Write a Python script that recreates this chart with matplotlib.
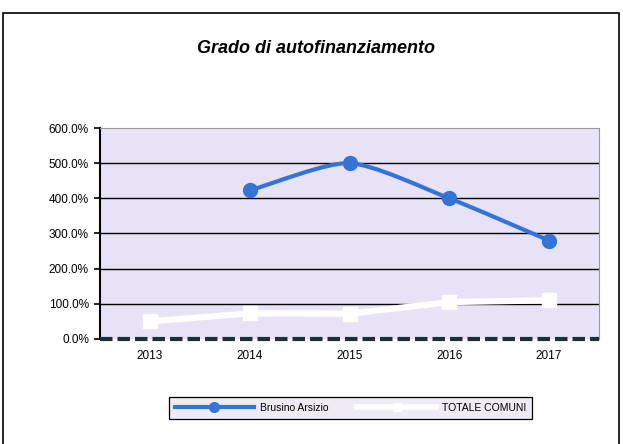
import matplotlib
matplotlib.use("Agg")
import matplotlib.pyplot as plt
import numpy as np
from matplotlib.path import Path
from matplotlib.patches import PathPatch, Rectangle
from matplotlib.lines import Line2D

plt.rcParams['font.family'] = ['Liberation Sans', 'DejaVu Sans']

anni = ['2013', '2014', '2015', '2016', '2017']
brusino = [None, 423, 500, 400, 280]
totale = [50, 73, 72, 105, 110]
y_ticks = [0, 100, 200, 300, 400, 500, 600]

blu = '#3474d6'
sfondo = '#e7e2f5'


def percorso_smussato(xs, ys, t=0.12):
    # curva tipo "linea smussata" di Excel (Catmull-Rom -> Bezier)
    verts = [(xs[0], ys[0])]
    codes = [Path.MOVETO]
    n = len(xs)
    for i in range(n - 1):
        x1, y1 = xs[i], ys[i]
        x2, y2 = xs[i + 1], ys[i + 1]
        if i > 0:
            x0, y0 = xs[i - 1], ys[i - 1]
        else:
            x0, y0 = 2 * x1 - x2, 2 * y1 - y2
        if i + 2 < n:
            x3, y3 = xs[i + 2], ys[i + 2]
        else:
            x3, y3 = 2 * x2 - x1, 2 * y2 - y1
        verts += [(x1 + (x2 - x0) * t, y1 + (y2 - y0) * t),
                  (x2 - (x3 - x1) * t, y2 - (y3 - y1) * t),
                  (x2, y2)]
        codes += [Path.CURVE4] * 3
    return Path(verts, codes)


fig = plt.figure(figsize=(6.23, 4.44), dpi=100)
fig.patches.append(Rectangle((3 / 623, -0.01), 616 / 623, 1 - 13 / 444 + 0.01,
                             transform=fig.transFigure, fill=False,
                             edgecolor='black', linewidth=1.2))

ax = fig.add_axes([0.1605, 0.2365, 0.801, 0.4752])
ax.set_facecolor(sfondo)
x = np.arange(len(anni))

for v in y_ticks[1:-1]:
    ax.axhline(v, color='black', linewidth=1.0, zorder=1)

# TOTALE COMUNI
ax.plot(x, totale, color='white', linewidth=4.5, marker='s', markersize=9.5,
        zorder=3)

# Brusino Arsizio (linea smussata)
bx = [i for i, v in enumerate(brusino) if v is not None]
by = [v for v in brusino if v is not None]
ax.add_patch(PathPatch(percorso_smussato(bx, by), facecolor='none',
                       edgecolor=blu, linewidth=3, zorder=4))
ax.plot(bx, by, linestyle='none', marker='o', markersize=10, color=blu,
        zorder=5)

ax.axhline(0, color='#1f2f3a', linewidth=3, linestyle=(0, (3, 1.2)),
           zorder=6, clip_on=False)

ax.set_xlim(-0.5, len(anni) - 0.5)
ax.set_ylim(0, 600)
ax.set_yticks(y_ticks)
ax.set_yticklabels(['%.1f%%' % v for v in y_ticks], fontsize=8.5)
ax.set_xticks(x)
ax.set_xticklabels(anni, fontsize=8.5)
ax.tick_params(axis='x', length=0, pad=8)
ax.tick_params(axis='y', length=4, width=1.2, direction='out', pad=4)
ax.spines['left'].set_linewidth(1.5)
ax.spines['left'].set_color('black')
ax.spines['bottom'].set_visible(False)
for s in ['top', 'right']:
    ax.spines[s].set_color('#9a9a9a')
    ax.spines[s].set_linewidth(0.8)

fig.text(0.508, 0.89, 'Grado di autofinanziamento', ha='center', va='center',
         fontsize=13, fontweight='bold', style='italic')

handles = [Line2D([], [], color=blu, linewidth=3, marker='o', markersize=7),
           Line2D([], [], color='white', linewidth=4, marker='s',
                  markersize=6)]
leg = fig.legend(handles, ['Brusino Arsizio', 'TOTALE COMUNI'], ncol=2,
                 loc='center', bbox_to_anchor=(0.563, 0.081), fontsize=7.5,
                 handlelength=7.5, columnspacing=2.8, handletextpad=0.6,
                 fancybox=False, framealpha=1, borderpad=0.6)
leg.get_frame().set_facecolor('#eeebf6')
leg.get_frame().set_edgecolor('black')
leg.get_frame().set_linewidth(0.9)

fig.savefig('out.png', dpi=100)
